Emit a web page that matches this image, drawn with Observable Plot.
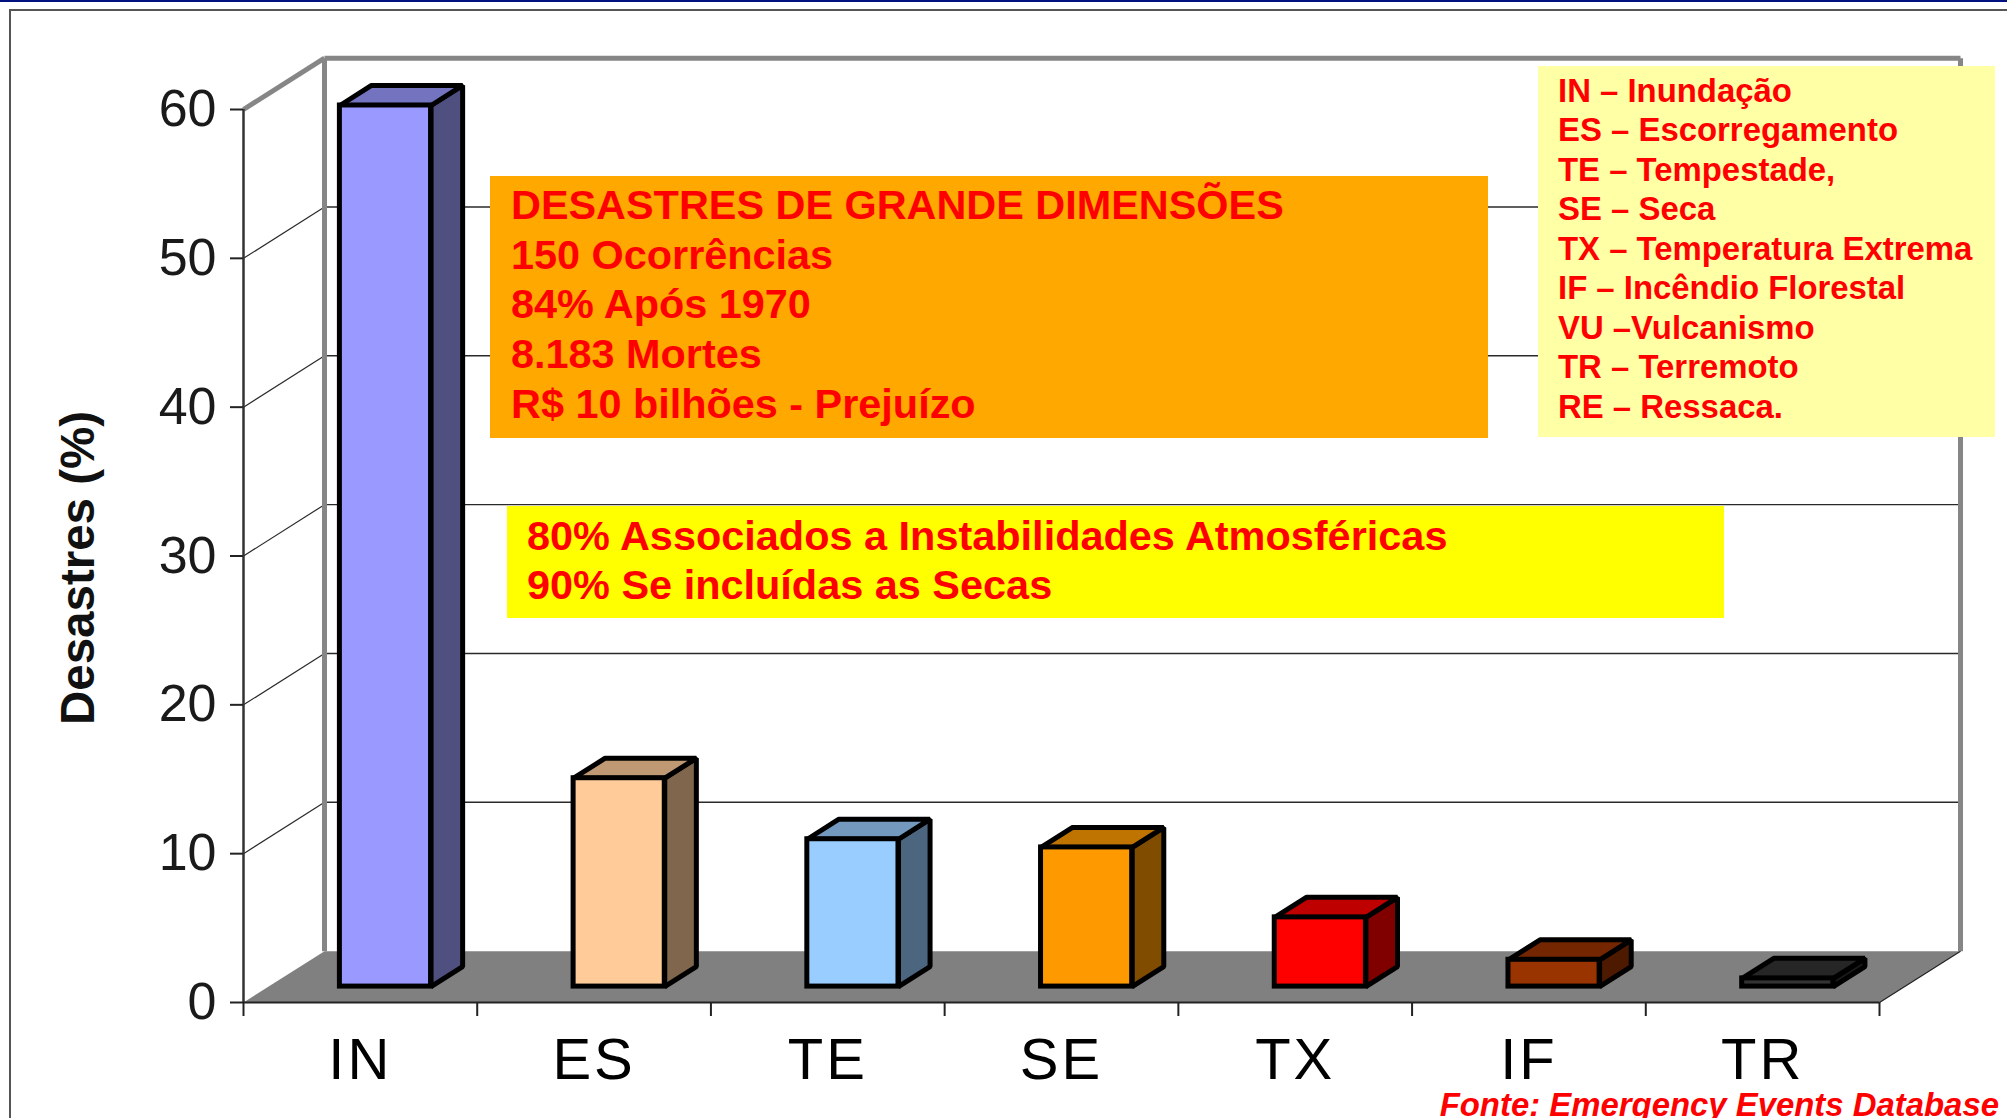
<!DOCTYPE html>
<html lang="pt">
<head>
<meta charset="utf-8">
<script src="https://cdn.jsdelivr.net/npm/d3@7"></script>
<script src="https://cdn.jsdelivr.net/npm/@observablehq/plot@0.6"></script>
<style>
html,body{margin:0;padding:0;background:#fff;overflow:hidden;width:2007px;height:1118px}
#stage{position:relative;width:2007px;height:1118px;overflow:hidden;font-family:"Liberation Sans",Arial,sans-serif}
#stage svg{position:absolute;left:0;top:0}
.box{position:absolute;color:#ff0000;font-weight:bold;white-space:nowrap;box-sizing:border-box}
.edge{position:absolute}
</style>
</head>
<body>
<div id="stage"></div>
<script>
const categories = ["IN", "ES", "TE", "SE", "TX", "IF", "TR"];
const values = [59.2, 14, 9.9, 9.35, 4.65, 1.8, 0.55];
const frontColors = ["#9999ff", "#ffcc99", "#99ccff", "#ff9900", "#ff0000", "#993300", "#333333"];
const sideColors = ["#4f4f80", "#7f664d", "#4d6680", "#804d00", "#800000", "#4d1a00", "#1a1a1a"];
const topColors = ["#7373bf", "#bf9973", "#7399bf", "#bf7300", "#bf0000", "#732600", "#262626"];
const yTicks = [0, 10, 20, 30, 40, 50, 60];
const gridTicks = [10, 20, 30, 40, 50];
const yLabel = "Desastres (%)";
const headline = ["DESASTRES DE GRANDE DIMENSÕES", "150 Ocorrências", "84% Após 1970", "8.183 Mortes", "R$ 10 bilhões - Prejuízo"];
const yellowNote = ["80% Associados a Instabilidades Atmosféricas", "90% Se incluídas as Secas"];
const legendLines = ["IN – Inundação", "ES – Escorregamento", "TE – Tempestade,", "SE – Seca", "TX – Temperatura Extrema", "IF – Incêndio Florestal", "VU –Vulcanismo", "TR – Terremoto", "RE – Ressaca."];
const source = "Fonte: Emergency Events Database";

// Oblique projection: depth d (0 = front of the floor, 1 = back wall) shifts a point in data units.
const DX = 0.3466, DY = 3.45, D_FRONT = 0.31, D_BACK = 0.70, BAR = 0.39;
const px = (x, d) => x + d * DX;
const py = (y, d) => y + d * DY;

const rows = categories.map((c, i) => ({
  c, v: values[i], front: frontColors[i], side: sideColors[i], top: topColors[i],
  l: i + 0.5 - BAR / 2, r: i + 0.5 + BAR / 2
}));
const poly = (name, corners, color) => corners.map(([x, y, d]) => ({name, x: px(x, d), y: py(y, d), color}));
const sideFaces = rows.flatMap(b => poly(b.c + "s", [[b.r, 0, D_FRONT], [b.r, 0, D_BACK], [b.r, b.v, D_BACK], [b.r, b.v, D_FRONT]], b.side));
const topFaces = rows.flatMap(b => poly(b.c + "t", [[b.l, b.v, D_FRONT], [b.r, b.v, D_FRONT], [b.r, b.v, D_BACK], [b.l, b.v, D_BACK]], b.top));
const xN = categories.length, yMax = 60;
const floor = poly("floor", [[0, 0, 0], [xN, 0, 0], [xN, 0, 1], [0, 0, 1]], "#808080");

const WALL = "#868686";
const BAR_STROKE = 5;
const chart = Plot.plot({
  width: 2007, height: 1118,
  marginLeft: 243, marginRight: 128, marginTop: 109, marginBottom: 116,
  style: {fontFamily: '"Liberation Sans", Arial, sans-serif', background: "transparent", overflow: "visible"},
  x: {domain: [0, xN], axis: null},
  y: {domain: [0, yMax], axis: null},
  color: {type: "identity"},
  marks: [
    Plot.line(floor, {x: "x", y: "y", z: "name", fill: "color", stroke: null, curve: "linear-closed"}),
    // gridlines on the back and left walls
    Plot.link(gridTicks, {x1: px(0, 1), x2: px(xN, 1), y1: t => py(t, 1), y2: t => py(t, 1), stroke: "#2a2a2a", strokeWidth: 1.4}),
    Plot.link(gridTicks, {x1: px(0, 0), x2: px(0, 1), y1: t => py(t, 0), y2: t => py(t, 1), stroke: "#2a2a2a", strokeWidth: 1.2}),
    // wall outline
    Plot.link([0, xN], {x1: x => px(x, 1), x2: x => px(x, 1), y1: py(0, 1), y2: py(yMax, 1), stroke: WALL, strokeWidth: 5}),
    Plot.link([yMax], {x1: px(0, 1), x2: px(xN, 1), y1: t => py(t, 1), y2: t => py(t, 1), stroke: WALL, strokeWidth: 5}),
    Plot.link([yMax], {x1: px(0, 0), x2: px(0, 1), y1: t => py(t, 0), y2: t => py(t, 1), stroke: WALL, strokeWidth: 5}),
    Plot.link([xN], {x1: x => px(x, 0), x2: x => px(x, 1), y1: py(0, 0), y2: py(0, 1), stroke: "#222", strokeWidth: 1.2}),
    // bars
    Plot.line(sideFaces, {x: "x", y: "y", z: "name", fill: "color", stroke: "#000", strokeWidth: BAR_STROKE, strokeLinejoin: "miter", curve: "linear-closed"}),
    Plot.line(topFaces, {x: "x", y: "y", z: "name", fill: "color", stroke: "#000", strokeWidth: BAR_STROKE, strokeLinejoin: "miter", curve: "linear-closed"}),
    Plot.rect(rows, {
      x1: b => px(b.l, D_FRONT), x2: b => px(b.r, D_FRONT),
      y1: () => py(0, D_FRONT), y2: b => py(b.v, D_FRONT),
      fill: "front", stroke: "#000", strokeWidth: BAR_STROKE
    }),
    // axes
    Plot.ruleX([0], {y1: 0, y2: yMax, stroke: "#333", strokeWidth: 2.5}),
    Plot.ruleY([0], {x1: 0, x2: xN, stroke: "#222", strokeWidth: 2}),
    Plot.axisY({ticks: yTicks, label: null, tickSize: 13, tickPadding: 14, fontSize: 52, stroke: "#222", strokeWidth: 2, fill: "#1a1a1a"}),
    Plot.axisX({ticks: d3.range(0, xN + 1), tickFormat: () => "", label: null, tickSize: 14, stroke: "#222", strokeWidth: 2}),
    Plot.axisX({ticks: categories.map((c, i) => i + 0.5), tickFormat: x => categories[x - 0.5], label: null, tickSize: 0, tickPadding: 35, fontSize: 58, fill: "#000"}),
    Plot.text([yLabel], {frameAnchor: "left", textAnchor: "middle", dx: -165, dy: 12, rotate: -90, fontSize: 47.5, fontWeight: "bold", fill: "#111"})
  ]
});

d3.select(chart).selectAll('[aria-label="x-axis tick label"] text').style("letter-spacing", "3px");

const stage = document.getElementById("stage");
stage.appendChild(chart);

function addEdge(l, t, w, h, c) {
  const e = document.createElement("div");
  e.className = "edge";
  e.style.cssText = `left:${l}px;top:${t}px;width:${w}px;height:${h}px;background:${c}`;
  stage.appendChild(e);
}
addEdge(0, 0, 2007, 2, "#00107e");
addEdge(9, 9, 1998, 2, "#555");
addEdge(9, 9, 2, 1109, "#555");

function addBox(lines, l, t, w, h, bg, padL, fs, lh, baseline) {
  const b = document.createElement("div");
  b.className = "box";
  const offset = lh / 2 + 0.3465 * fs;
  b.style.cssText = `left:${l}px;top:${t}px;width:${w}px;height:${h}px;background:${bg};padding-left:${padL}px;padding-top:${baseline - t - offset}px;font-size:${fs}px;line-height:${lh}px`;
  lines.forEach(s => { const d = document.createElement("div"); d.textContent = s; b.appendChild(d); });
  stage.appendChild(b);
}
addBox(headline, 490, 176, 998, 262, "#ffa800", 21, 41.4, 49.8, 220);
addBox(yellowNote, 507, 506, 1217, 112, "#ffff00", 20, 41.45, 49.5, 550);
addBox(legendLines, 1538, 66, 457, 371, "#ffffa6", 20, 32.9, 39.45, 102);

const f = document.createElement("div");
f.className = "box";
f.style.cssText = "right:8px;top:1085px;font-size:32.9px;line-height:40px;font-style:italic";
f.textContent = source;
stage.appendChild(f);
</script>
</body>
</html>
